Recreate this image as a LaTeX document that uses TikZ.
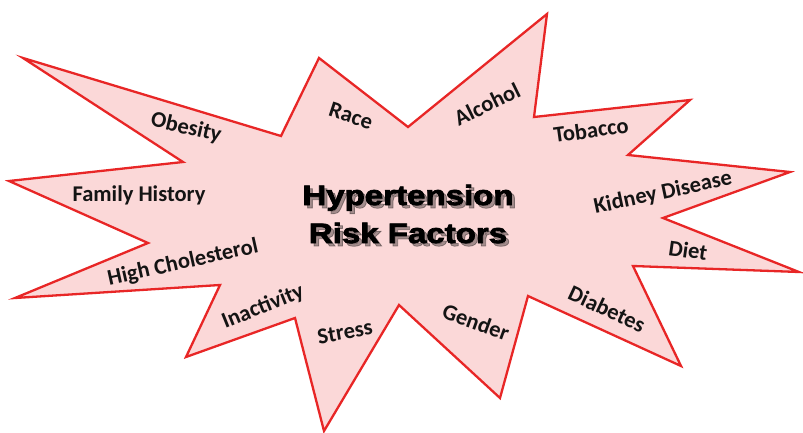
\documentclass[tikz,border=0pt]{standalone}
\usepackage{fontspec}
\setmainfont{Carlito}
\newfontfamily\titlefont[FakeBold=2.6]{Liberation Sans Bold}
\definecolor{starfill}{RGB}{251,216,216}
\definecolor{stardraw}{RGB}{232,38,38}
\begin{document}
\begin{tikzpicture}[x=1pt,y=-1pt,
  lbl/.style={font=\fontsize{22.5}{25}\selectfont\bfseries, text=black!92, inner sep=0pt},
  ttl/.style={font=\titlefont\fontsize{28}{38}\selectfont, align=center, inner sep=0pt}]
\useasboundingbox (0,0) rectangle (803,433);
\draw[stardraw, fill=starfill, line width=2.3pt, line join=miter]
  (23,58) -- (281,136) -- (319,58) -- (408,127) -- (547,14) -- (534,117)
  -- (690,100) -- (628,155) -- (790,172) -- (663,218) -- (799,272)
  -- (633,266) -- (681,366) -- (528,296) -- (500,398) -- (399,305)
  -- (324,431) -- (295,318) -- (186,357) -- (220,285) -- (15,298)
  -- (148,243) -- (9,181) -- (183,162) -- cycle;
% title shadow
\node[ttl, text=black, opacity=0.35] (shadow) at (411,217) {\scalebox{1.18}[1]{Hypertension}\\\scalebox{1.18}[1]{Risk Factors}};
\node[ttl] (title) at (408,214) {\scalebox{1.18}[1]{Hypertension}\\\scalebox{1.18}[1]{Risk Factors}};
\node[lbl, rotate=-13] (obesity) at (186,128) {Obesity};
\node[lbl, rotate=-18] (race) at (351,116) {Race};
\node[lbl] (family) at (139,195) {Family History};
\node[lbl, rotate=26] (alcohol) at (487,104) {Alcohol};
\node[lbl, rotate=8] (tobacco) at (591,130) {Tobacco};
\node[lbl, rotate=12] (kidney) at (663,193) {Kidney Disease};
\node[lbl, rotate=-8] (diet) at (688,250) {Diet};
\node[lbl, rotate=-25] (diabetes) at (607,309) {Diabetes};
\node[lbl, rotate=-20] (gender) at (476,322) {Gender};
\node[lbl, rotate=10] (stress) at (345,332) {Stress};
\node[lbl, rotate=22] (inactivity) at (263,307) {Inactivity};
\node[lbl, rotate=12.5] (chol) at (183,263) {High Cholesterol};
\end{tikzpicture}
\end{document}
